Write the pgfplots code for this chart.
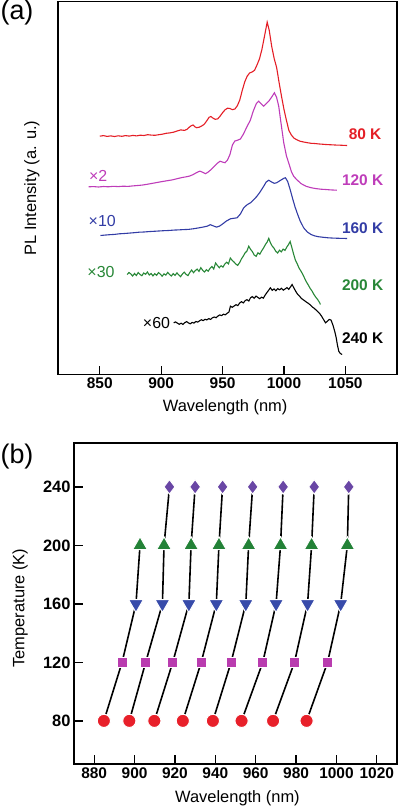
\documentclass[border=0pt]{standalone}
\usepackage{pgfplots}
\pgfplotsset{compat=1.18}
\usepackage{pgfplotstable}
\usepackage{fontspec}
\setmainfont{Liberation Sans}

\definecolor{cred}{RGB}{228,30,38}
\definecolor{cmag}{RGB}{190,60,185}
\definecolor{cblue}{RGB}{50,60,165}
\definecolor{cgreen}{RGB}{40,135,55}
\definecolor{mred}{RGB}{232,32,42}
\definecolor{mmag}{RGB}{185,60,175}
\definecolor{mblue}{RGB}{55,75,170}
\definecolor{mgreen}{RGB}{35,130,55}
\definecolor{mpurp}{RGB}{105,70,165}

\pgfplotstableread{
T c1 c2 c3 c4 c5 c6 c7 c8
80 884.8 897.4 909.8 923.9 938.8 953.0 968.6 985.2
120 893.8 905.5 918.9 933.0 947.8 963.5 979.2 995.6
160 900.7 913.8 926.9 940.5 955.1 970.1 985.7 1002.1
200 902.7 914.6 928.0 941.8 956.5 972.3 987.7 1005.4
240 nan 917.3 930.0 943.6 958.5 973.6 989.0 1006.1
}\chains

\begin{document}
\begin{tikzpicture}
\useasboundingbox (0,0) rectangle (399bp,-809bp);
% ---------------- panel (a)
\begin{axis}[
  at={(58bp,-374.5bp)}, anchor=south west,
  scale only axis, width=339bp, height=373bp,
  xmin=816, xmax=1092, ymin=0, ymax=373,
  axis line style={line width=1.5bp},
  xtick={850,900,...,1050}, ytick=\empty,
  xtick pos=bottom, tick align=inside,
  major tick length=9bp,
  every tick/.style={black, line width=1.3bp},
  /pgf/number format/assume math mode=true,
  /pgf/number format/1000 sep={},
  ticklabel style={font=\fontsize{15.5}{16}\selectfont\bfseries},
  xlabel={Wavelength (nm)},
  ylabel={PL Intensity (a. u.)},
  label style={font=\fontsize{16.5}{18}\selectfont},
  xlabel style={at={(axis description cs:0.493,-0.087)}, anchor=center},
  ylabel style={at={(axis description cs:-0.077,0.5)}, anchor=center},
  clip=false,
]
\addplot[cred, line width=1.1bp] coordinates {
(850,238.3) (853,238.9) (856,238.1) (859,238.6) (862,238.0) (865,238.7) (868,238.2) (871,238.9) (874,238.4) (877,239.1) (880,238.6) (883,239.3) (886,239.0) (889,239.8) (892,239.4) (895,239.2) (898,239.8) (901,240.3) (904,241.2) (907,241.6) (910,242.3) (913,243.5) (916,244.6) (919,244.1) (921,245.2) (923,247.4) (924.5,248.8) (926,249.5) (927.5,247.6) (929,246.8) (931,247.3) (933,248.5) (935,250.2) (937,253.5) (939,257.2) (940.5,258.0) (942,256.5) (944,255.2) (946,255.6) (948,258.4) (950,261.8) (952,264.7) (954,266.3) (956,266.0) (958,264.8) (960,265.5) (962,268.7) (964,274.5) (966,284.0) (968,292.5) (970,298.3) (972,301.5) (974,302.5) (976,304.2) (978,309.5) (980,315.5) (982,325.0) (984,337.5) (986.3,352.3) (988,344) (990,328) (992,316) (994,307) (996,292) (998,278) (1000,265) (1002,254) (1004,244) (1006,239.5) (1008,236.5) (1010,235.0) (1013,233.3) (1016,232.5) (1019,231.8) (1022,231.2) (1025,231.0) (1028,230.6) (1031,230.3) (1034,230.0) (1037,229.8) (1040,229.6) (1043,229.4) (1046,229.3) (1049,229.1) (1051.4,229)
};
\addplot[cmag, line width=1.1bp] coordinates {
(841,187.7) (845,187.9) (849,187.5) (853,188.0) (857,187.7) (861,188.2) (865,187.9) (869,188.3) (873,188.1) (877,188.6) (881,189.0) (885,189.5) (889,190.3) (893,191.2) (897,192.1) (901,193.0) (905,193.8) (909,194.6) (913,195.8) (917,197.0) (920,197.6) (923,198.4) (926,199.9) (929,202.0) (931.5,203.4) (934,202.1) (936,200.8) (938,202.2) (940.5,204.8) (943,207.8) (945.5,211.0) (948,213.3) (950,212.4) (952,211.8) (954,214.5) (956,220.0) (958,229.5) (960,233.5) (962,234.2) (964.5,235.5) (967,240.5) (970,248.3) (972.5,254.0) (975,263.5) (977.5,271.0) (979.4,273.3) (981.5,270.5) (983.5,268.3) (985.5,270.8) (987.6,273.3) (990,277.5) (992.2,281.7) (994,277) (995.7,268.3) (997.5,252) (999.8,231.7) (1002,218.5) (1003.8,211.7) (1006,203.0) (1008,198.0) (1010.7,194.5) (1014,190.8) (1018,188.2) (1022,186.8) (1026,185.9) (1030,185.3) (1034,185.0) (1038,184.6) (1043,184.3)
};
\addplot[cblue, line width=1.1bp] coordinates {
(850.6,139) (854,139.4) (858,139.8) (862,140.1) (866,140.7) (870,141.0) (874,141.4) (878,141.8) (882,142.3) (886,142.5) (890,142.9) (894,143.2) (898,143.5) (902,143.8) (906,144.0) (910,144.4) (914,144.6) (918,144.9) (922,145.1) (926,145.7) (930,146.5) (934,147.4) (937.4,148.3) (940,149.8) (942.5,148.6) (945,147.4) (947.5,148.4) (950,150.5) (953,153.4) (956.4,155.7) (959,156.2) (961.8,156.7) (964.5,160.5) (967.2,166.7) (970,169.8) (972.7,171.7) (975.5,175.0) (978,178.3) (980.5,182.5) (983.5,188.3) (985.5,192.5) (987.6,194.3) (990,192.4) (992,191.2) (994,191.7) (996,193.3) (998,194.8) (1000,196.3) (1001.2,196.7) (1003,193.0) (1005,185) (1007,176) (1009,167.5) (1011,160.5) (1013,154.0) (1016,146.7) (1019,142.5) (1022,140.0) (1025,138.6) (1028,137.8) (1032,137.2) (1036,136.7) (1040,136.4) (1045,136.2) (1051.4,136)
};
\addplot[cgreen, line width=1.1bp] coordinates {
(872.3,100) (873.8,102) (875.3,100.5) (876.8,98.5) (878.3,101) (879.8,99) (881.3,102) (882.8,100) (884.3,98.8) (885.8,101.5) (887.3,100.2) (888.8,102.5) (890.3,99.5) (891.8,101) (893.3,98.6) (894.8,100.8) (896.3,99.2) (897.8,101.9) (899.3,100.4) (900.8,98.3) (902.3,100.6) (903.8,99.4) (905.3,102.1) (906.8,100) (908.3,98.5) (909.8,100.9) (911.3,99.1) (912.8,101.6) (914.3,99.7) (915.8,97.8) (917.3,100.5) (918.8,102.4) (920.3,100.1) (921.8,98.9) (923.3,102) (924.8,104.5) (926.3,101.8) (927.8,103.9) (929.3,105.4) (930.8,103.1) (932.3,106.8) (933.8,104.2) (935.3,102.5) (936.8,104.8) (938.3,103.3) (939.8,106.2) (941.3,108) (942.8,105.5) (944.3,111.5) (945.8,109) (947.3,106.8) (948.8,108.7) (950.3,107.4) (951.8,110.5) (953.3,112.3) (954.8,110.6) (956.3,116.5) (957.8,114.2) (959.3,112.5) (960.8,110.4) (962.3,109.1) (963.8,111.8) (965.3,115.5) (966.8,118.3) (968.3,121.6) (969.8,123.4) (971.3,128.3) (972.8,125.1) (974.3,122.8) (975.8,119.4) (977.3,118.2) (978.8,121.7) (980.3,120.3) (981.8,123.6) (983.3,126.4) (984.8,129.8) (986.3,132.5) (987.6,136.2) (988.8,132.1) (990.3,128.6) (991.8,126.4) (993.3,123.2) (994.8,121.5) (996.3,124.3) (997.8,122.6) (999.3,125.4) (1000.8,124.1) (1002.3,127.5) (1003.8,130.2) (1005.0,133) (1006.3,127.4) (1007.8,120.5) (1009.3,114.2) (1010.8,110.6) (1012.3,106.3) (1013.8,103.4) (1015.3,100.1) (1016.8,96.2) (1018.3,92.5) (1019.8,89.4) (1021.3,86.1) (1022.8,83.5) (1024.3,80.2) (1025.8,77.4) (1027.3,75.1) (1028.8,72.3) (1029.7,70)
};
\addplot[black, line width=1.1bp] coordinates {
(910.2,51.7) (911.7,52.6) (913.2,51.4) (914.7,50.2) (916.2,51.3) (917.7,50.1) (919.2,51.8) (920.7,52.9) (922.2,51.6) (923.7,50.7) (925.2,52.1) (926.7,51.4) (928.2,53.0) (929.7,52.4) (931.2,53.6) (932.7,54.8) (934.2,53.9) (935.7,55.2) (937.2,54.6) (938.7,55.9) (940.2,55.1) (941.7,56.7) (943.2,57.5) (944.7,56.8) (946.2,58.4) (947.7,59.6) (949.2,58.9) (950.7,60.3) (952.2,59.7) (953.7,61.2) (955.2,62.5) (956.4,68.3) (957.9,67.2) (959.4,68.5) (960.9,69.8) (962.4,68.9) (963.9,71.5) (965.4,72.8) (966.9,71.6) (968.4,73.9) (969.9,74.8) (971.4,73.5) (972.7,76.7) (974.2,77.9) (975.7,76.2) (977.2,78.4) (978.7,77.1) (980.2,75.8) (981.7,77.3) (983.2,76.4) (984.7,79.5) (986.2,82.1) (987.7,84.6) (988.9,86.7) (990.4,84.2) (991.9,85.6) (993.4,83.8) (994.9,85.9) (996.4,84.7) (997.9,86.2) (999.4,84.3) (1000.9,85.5) (1002.4,86.9) (1003.9,85.2) (1005.4,87.8) (1006.6,90) (1008.1,86.4) (1009.6,83.1) (1011.1,80.2) (1012.6,78.5) (1014.1,76.1) (1015.6,74.8) (1017.1,73.5) (1018.6,72.1) (1020.1,70.9) (1021.6,69.4) (1023.1,67.5) (1024.6,66.2) (1026.1,64.5) (1027.6,62.8) (1029.1,60.9) (1030.6,58.3) (1032.1,55.2) (1033.8,51.7) (1035.3,53.2) (1036.8,55.1) (1038.3,54.4) (1039.8,49.5) (1041.3,43.2) (1042.5,36.8) (1043.5,29.5) (1044.6,23.3) (1045.8,21.1) (1047.3,20)
};
\begin{scope}[font=\fontsize{15.5}{16}\selectfont\bfseries]
\node[cred] at (axis cs:1066,240) {80 K};
\node[cmag] at (axis cs:1064,194) {120 K};
\node[cblue] at (axis cs:1064,146.3) {160 K};
\node[cgreen] at (axis cs:1064,89.3) {200 K};
\node[black] at (axis cs:1064,36.7) {240 K};
\end{scope}
\begin{scope}[font=\fontsize{16}{17}\selectfont]
\node[cmag] at (axis cs:848.7,198.3) {×2};
\node[cblue] at (axis cs:852,153.3) {×10};
\node[cgreen] at (axis cs:851,102.3) {×30};
\node[black] at (axis cs:896.2,51) {×60};
\end{scope}
\end{axis}
\node[font=\fontsize{27}{28}\selectfont] at (17bp,-13bp) {(a)};
% ---------------- panel (b)
\begin{axis}[
  at={(74bp,-764bp)}, anchor=south west,
  scale only axis, width=323bp, height=321bp,
  xmin=870, xmax=1030, ymin=50.5, ymax=270,
  axis line style={line width=1.5bp},
  xtick={880,900,...,1020}, ytick={80,120,...,240},
  xtick pos=bottom, ytick pos=left, tick align=inside,
  major tick length=9bp,
  every tick/.style={black, line width=1.3bp},
  /pgf/number format/assume math mode=true,
  /pgf/number format/1000 sep={},
  xticklabel style={font=\fontsize{15.5}{16}\selectfont\bfseries},
  yticklabel style={font=\fontsize{16.5}{17}\selectfont\bfseries},
  xlabel={Wavelength (nm)},
  ylabel={Temperature (K)},
  label style={font=\fontsize{16.5}{18}\selectfont},
  xlabel style={at={(axis description cs:0.506,-0.106)}, anchor=center},
  ylabel style={at={(axis description cs:-0.167,0.486)}, anchor=center},
  clip=false,
]
\pgfplotsinvokeforeach{1,...,8}{
  \addplot[black, line width=1.6bp] table[x=c#1, y=T]{\chains};
}
\pgfplotsinvokeforeach{1,...,8}{
  \addplot[only marks, mark=*, mark size=6.6bp, mark options={fill=mred, draw=white, line width=1bp}, restrict y to domain=79:81] table[x=c#1, y=T]{\chains};
  \addplot[only marks, mark=square*, mark size=5.0bp, mark options={fill=mmag, draw=white, line width=1bp}, restrict y to domain=119:121] table[x=c#1, y=T]{\chains};
  \addplot[only marks, mark=triangle*, mark size=8.6bp, mark options={fill=mblue, draw=white, line width=1bp, rotate=180}, restrict y to domain=159:161] table[x=c#1, y=T]{\chains};
  \addplot[only marks, mark=triangle*, mark size=8.6bp, mark options={fill=mgreen, draw=white, line width=1bp}, restrict y to domain=199:201] table[x=c#1, y=T]{\chains};
  \addplot[only marks, mark=diamond*, mark size=7.3bp, mark options={fill=mpurp, draw=white, line width=1bp}, restrict y to domain=239:241] table[x=c#1, y=T]{\chains};
}
\end{axis}
\node[font=\fontsize{27}{28}\selectfont] at (17bp,-457bp) {(b)};
\end{tikzpicture}
\end{document}
